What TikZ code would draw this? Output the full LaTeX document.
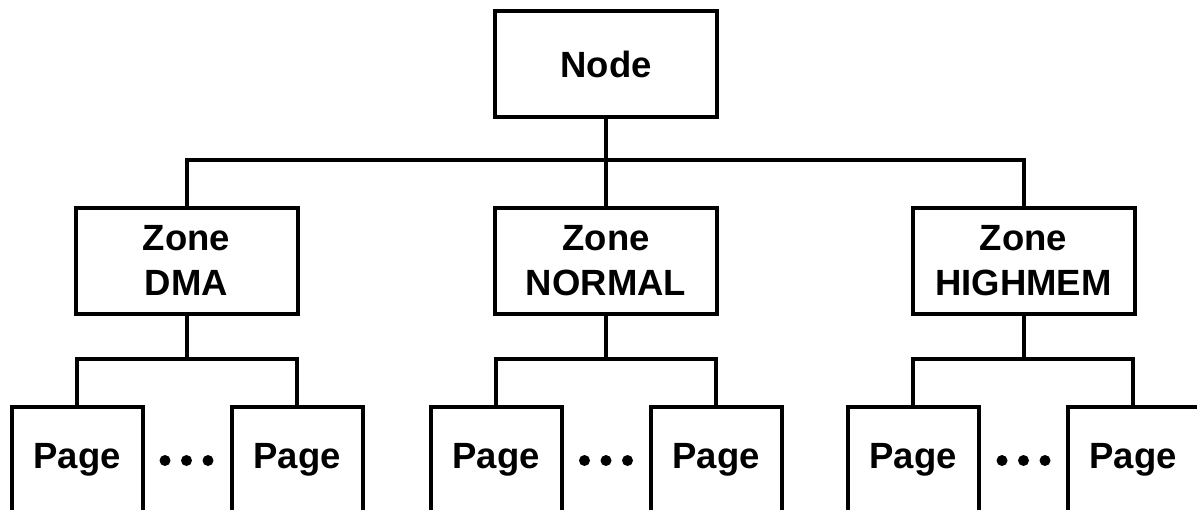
\documentclass[tikz,border=0pt]{standalone}
\usepackage{fontspec}
\setmainfont{Liberation Sans}
\begin{document}
\begin{tikzpicture}[x=1pt,y=-1pt,line width=4pt,
  box/.style={draw,line width=4pt,align=center,inner sep=0pt,
    font=\fontsize{36.5}{45}\selectfont\bfseries},
  bigbox/.style={box,minimum width=222pt,minimum height=106pt},
  pagebox/.style={box,minimum width=131pt,minimum height=106pt},
  dot/.style={fill=black}]
\useasboundingbox (0,0) rectangle (1197,509);
\clip (0,0) rectangle (1197,509);
\node[bigbox] (node) at (606,64) {Node};
\node[bigbox] (dma) at (186.5,260.5) {Zone\\DMA};
\node[bigbox] (normal) at (606,260.5) {Zone\\NORMAL};
\node[bigbox] (high) at (1023.5,260.5) {Zone\\HIGHMEM};
\coordinate (bus) at (0,160);
\coordinate (pbus) at (0,359);
\draw (node.south) -- (normal.north);
\draw[line join=miter] (dma.north) -- (dma.north |- bus) -- (high.north |- bus) -- (high.north);
\foreach \z/\a/\b in {dma/77/297,normal/496/716,high/913/1133}{
  \node[pagebox] (\z p1) at (\a,460) {Page};
  \node[pagebox] (\z p2) at (\b,460) {Page};
  \draw (\z.south) -- (\z.south |- pbus);
  \draw[line join=miter] (\z p1.north) -- (\z p1.north |- pbus) -- (\z p2.north |- pbus) -- (\z p2.north);
  \path (\z.center |- \z p1.center) coordinate (\z d);
  \fill[dot] ([xshift=-21.5pt,yshift=-0.5pt]\z d) circle (5.5pt);
  \fill[dot] ([yshift=-0.5pt]\z d) circle (5.5pt);
  \fill[dot] ([xshift=21.5pt,yshift=-0.5pt]\z d) circle (5.5pt);
}
\end{tikzpicture}
\end{document}
